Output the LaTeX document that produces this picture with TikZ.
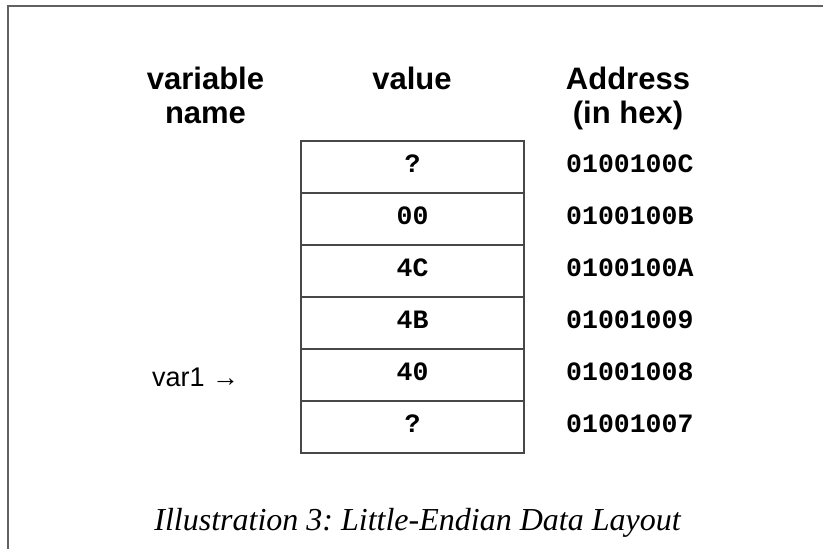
\documentclass[tikz,border=0pt]{standalone}
\usepackage{fontspec}
\setmainfont{Liberation Serif}
\newfontfamily\arialf{Liberation Sans}
\newfontfamily\monof{Liberation Mono}
\frenchspacing
\begin{document}
\begin{tikzpicture}[x=1pt,y=-1pt,
  frameline/.style={draw=black!62, line width=1.5pt},
  cell/.style={draw=black!72, line width=1.2pt, minimum width=223pt, minimum height=52pt,
    inner sep=0pt, text height=10pt, text depth=0pt,
    font=\monof\bfseries\fontsize{26.5}{30}\selectfont},
  addr/.style={anchor=base west, inner sep=0pt, font=\monof\bfseries\fontsize{26.5}{30}\selectfont},
  header/.style={anchor=base, inner sep=0pt, align=center,
    font=\arialf\bfseries\fontsize{31}{34}\selectfont},
  varlabel/.style={anchor=base west, inner sep=0pt, font=\arialf\fontsize{27}{30}\selectfont},
  caption/.style={anchor=base, inner sep=0pt, font=\itshape\fontsize{32}{36}\selectfont}]
\useasboundingbox (0,0) rectangle (823,549);
\fill[white] (0,0) rectangle (823,549);
\draw[frameline] (8,549) -- (8,6) -- (823,6);

\node[header] (hvar) at (205.5,123) {variable\\name};
\node[header] (hval) at (412,89) {value};
\node[header] (haddr) at (628,123) {Address\\(in hex)};

\node[cell] (c1) at (412.5,167) {?};
\node[cell] (c2) at (412.5,219) {00};
\node[cell] (c3) at (412.5,271) {4C};
\node[cell] (c4) at (412.5,323) {4B};
\node[cell] (c5) at (412.5,375) {40};
\node[cell] (c6) at (412.5,427) {?};

\node[addr] (a1) at (566,172) {0100100C};
\node[addr] (a2) at (566,224) {0100100B};
\node[addr] (a3) at (566,276) {0100100A};
\node[addr] (a4) at (566,328) {01001009};
\node[addr] (a5) at (566,380) {01001008};
\node[addr] (a6) at (566,432) {01001007};

\node[varlabel] (var) at (152,386) {var1 →};

\node[caption] (cap) at (417.5,530) {Illustration 3: Little-Endian Data Layout};
\end{tikzpicture}
\end{document}
